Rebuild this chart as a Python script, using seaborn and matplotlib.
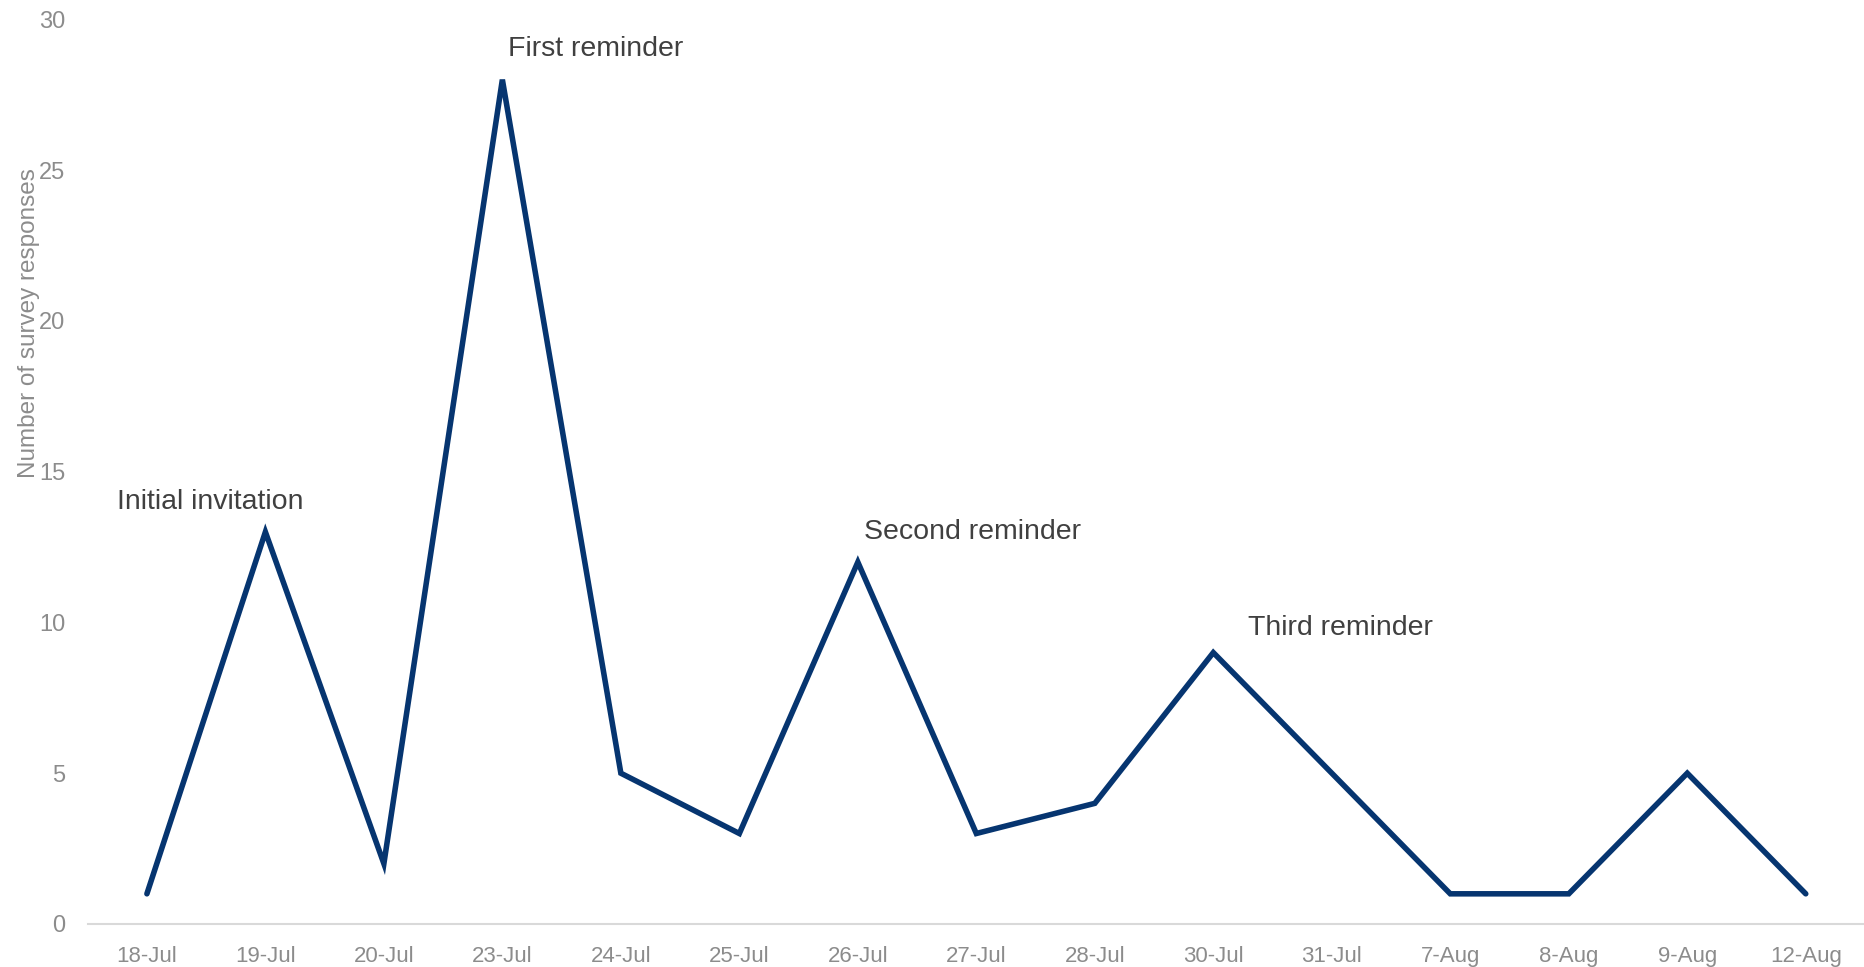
import pandas as pd
import matplotlib.pyplot as plt
import seaborn as sns

# データ
dates = ['18-Jul', '19-Jul', '20-Jul', '23-Jul', '24-Jul', '25-Jul', '26-Jul', '27-Jul',
         '28-Jul', '30-Jul', '31-Jul', '7-Aug', '8-Aug', '9-Aug', '12-Aug']
responses = [1, 13, 2, 28, 5, 3, 12, 3, 4, 9, 5, 1, 1, 5, 1]

notes = ['Initial invitation', 'First reminder', 'Second reminder', 'Third reminder']
note_x = [-0.25, 3.05, 6.05, 9.29]
note_y = [14.0, 29.0, 13.0, 9.8]

df = pd.DataFrame({'date': dates, 'responses': responses})

sns.set_theme(style='white')
plt.rcParams['font.family'] = ['Liberation Sans', 'DejaVu Sans']

fig = plt.figure(figsize=(18.65, 9.67), dpi=100)
ax = fig.add_axes([0.047, 0.0445, 0.953, 0.9355])

sns.lineplot(data=df, x='date', y='responses', sort=False, ax=ax,
             color='#063570', linewidth=4.0, solid_joinstyle='miter', solid_capstyle='round')

ax.set_xlim(-0.5, len(dates) - 0.5)
ax.set_ylim(0, 30)
ax.set_yticks(range(0, 31, 5))

for s in ['top', 'right', 'left']:
    ax.spines[s].set_visible(False)
ax.spines['bottom'].set_color('#d9d9d9')
ax.spines['bottom'].set_linewidth(1.5)

ax.tick_params(axis='both', length=0, labelcolor='#8c8c8c')
ax.tick_params(axis='x', pad=16, labelsize=16)
ax.tick_params(axis='y', pad=16, labelsize=17)

ax.set_xlabel('')
ax.set_ylabel('Number of survey responses', fontsize=17.5, color='#8c8c8c')
ax.yaxis.set_label_coords(-0.027, 0.664)

for t, x, y in zip(notes, note_x, note_y):
    ax.text(x, y, t, fontsize=20.5, color='#404040', va='center', ha='left')

fig.savefig('out.png', dpi=100)
